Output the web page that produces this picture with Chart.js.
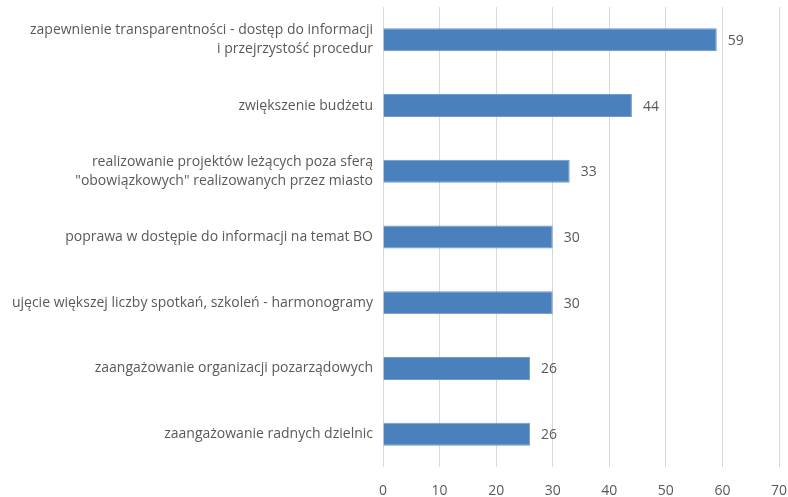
<!DOCTYPE html>
<html>
<head>
<meta charset="utf-8">
<script src="https://cdn.jsdelivr.net/npm/chart.js@4"></script>
<style>
  html, body { margin: 0; padding: 0; background: #ffffff; }
  #wrap { width: 788px; height: 497px; }
</style>
</head>
<body>
<div id="wrap"><canvas id="c" width="788" height="497"></canvas></div>
<script>
const categories = [
  ["zapewnienie transparentności - dostęp do informacji", "i przejrzystość procedur"],
  "zwiększenie budżetu",
  ["realizowanie projektów leżących poza sferą", "\"obowiązkowych\" realizowanych przez miasto"],
  "poprawa w dostępie do informacji na temat BO",
  "ujęcie większej liczby spotkań, szkoleń - harmonogramy",
  "zaangażowanie organizacji pozarządowych",
  "zaangażowanie radnych dzielnic"
];
const values = [59, 44, 33, 30, 30, 26, 26];
const xTicks = [0, 10, 20, 30, 40, 50, 60, 70];

const FONT = "'Open Sans', 'Liberation Sans', sans-serif";
const TEXT = '#595959';

const valueLabels = {
  id: 'valueLabels',
  afterDatasetsDraw(chart) {
    const ctx = chart.ctx;
    const meta = chart.getDatasetMeta(0);
    ctx.save();
    ctx.font = '14px ' + FONT;
    ctx.fillStyle = TEXT;
    ctx.textAlign = 'left';
    ctx.textBaseline = 'middle';
    meta.data.forEach((bar, i) => {
      ctx.fillText(String(values[i]), bar.x + 11, bar.y + 1);
    });
    ctx.restore();
  }
};

new Chart(document.getElementById('c'), {
  type: 'bar',
  data: {
    labels: categories,
    datasets: [{
      data: values,
      backgroundColor: '#4a81bd',
      borderColor: '#6f9bd1',
      borderWidth: 1,
      barPercentage: 0.35,
      categoryPercentage: 1.0
    }]
  },
  options: {
    indexAxis: 'y',
    responsive: false,
    animation: false,
    layout: { padding: { top: 7, right: 9, left: 0, bottom: 0 } },
    plugins: { legend: { display: false }, tooltip: { enabled: false } },
    scales: {
      x: {
        min: 0, max: 70,
        afterBuildTicks(scale) { scale.ticks = xTicks.map(v => ({ value: v })); },
        grid: { color: '#d9d9d9', lineWidth: 1, drawTicks: false },
        border: { display: false },
        ticks: { color: TEXT, font: { family: FONT, size: 14 }, padding: 16 },
        afterFit(scale) { scale.height = 30; scale.paddingLeft = 0; scale.paddingRight = 0; }
      },
      y: {
        grid: { display: false },
        border: { display: false },
        ticks: { color: TEXT, font: { family: FONT, size: 14, lineHeight: 1.35 }, padding: 2 },
        afterFit(scale) { scale.width = 383; scale.paddingTop = 0; scale.paddingBottom = 0; }
      }
    }
  },
  plugins: [valueLabels]
});
</script>
</body>
</html>
